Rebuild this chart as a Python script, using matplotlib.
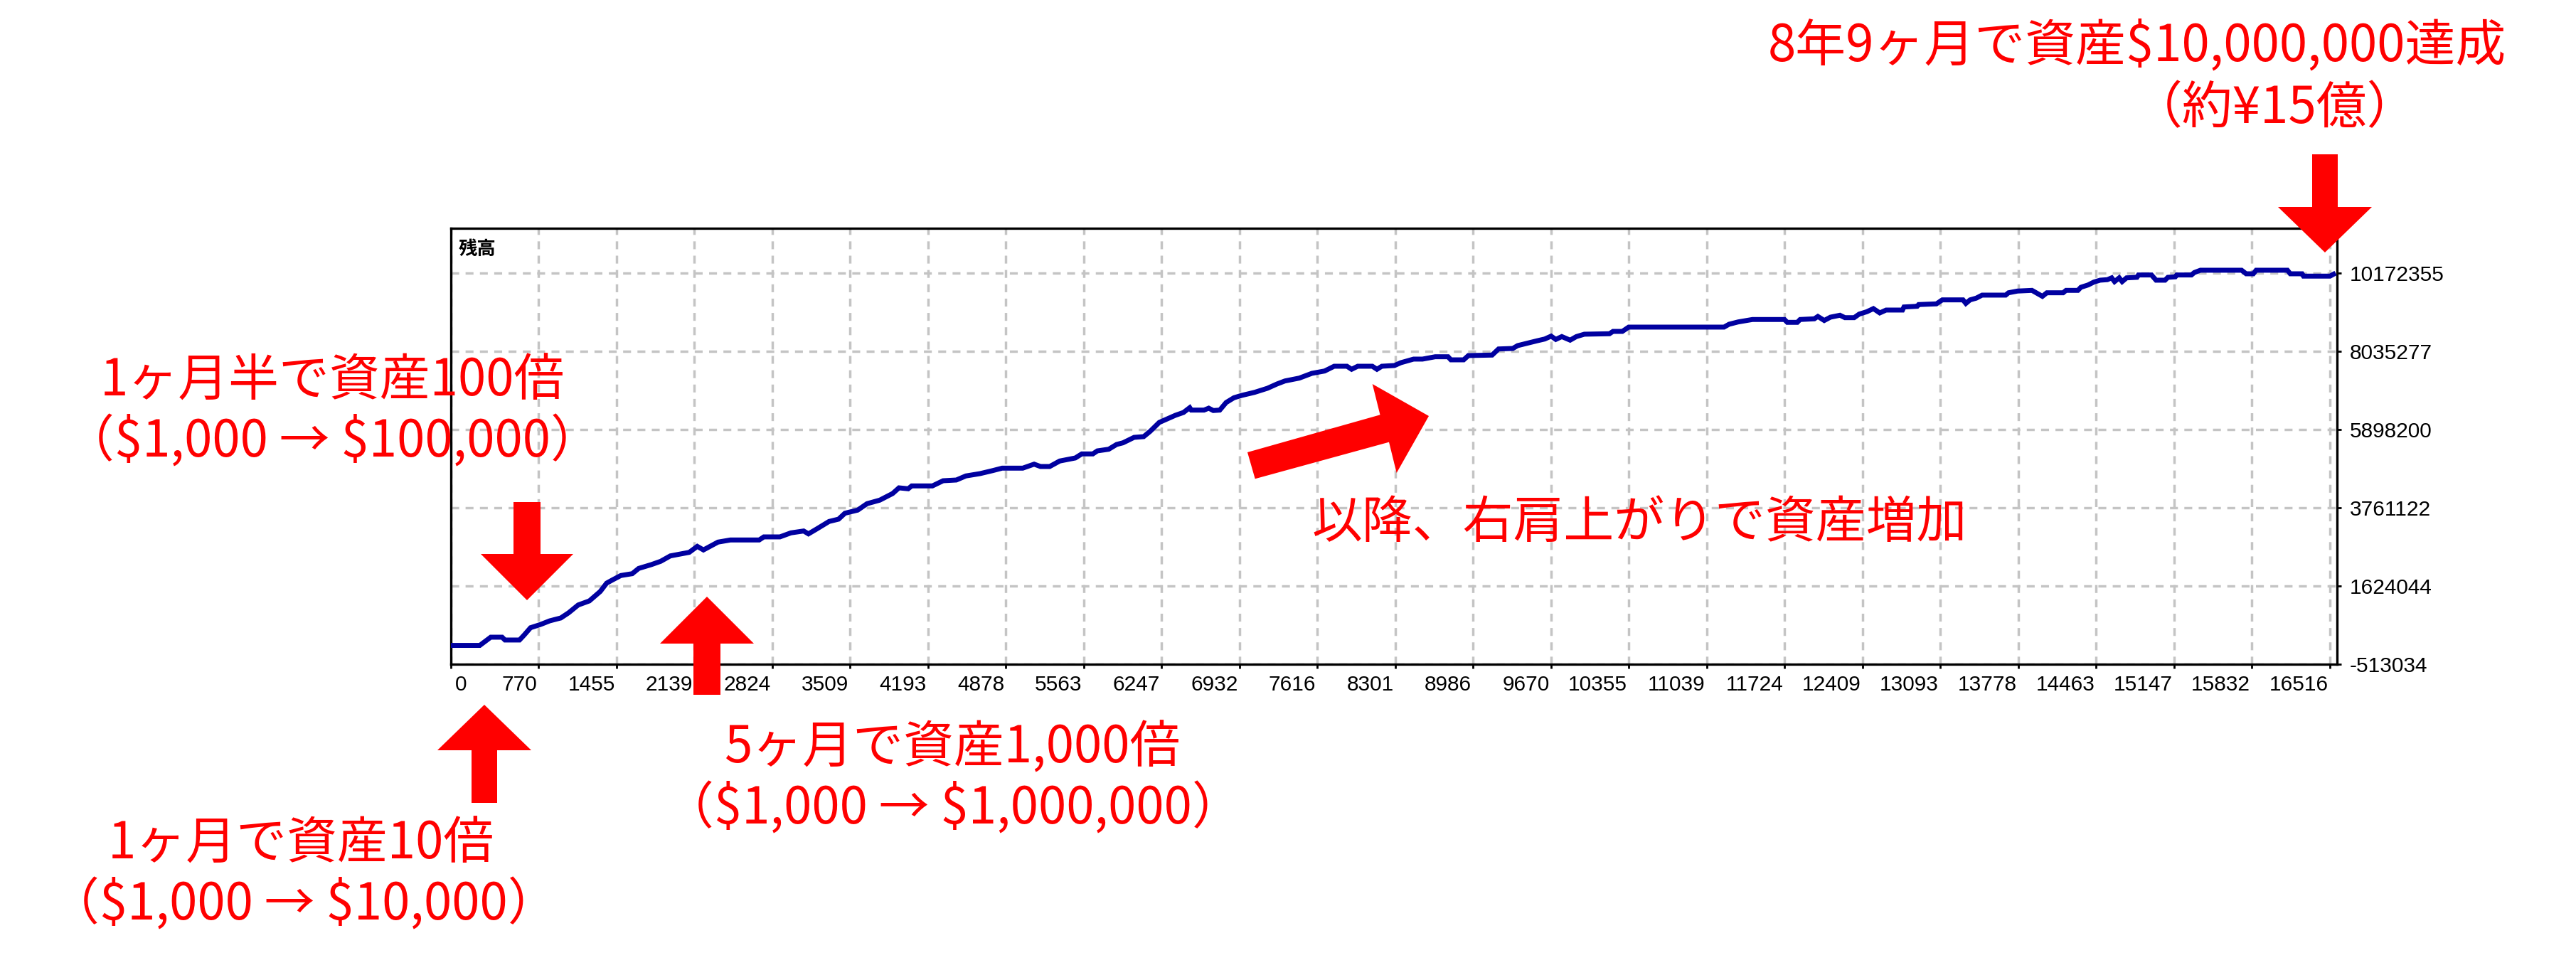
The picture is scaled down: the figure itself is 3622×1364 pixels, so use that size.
import matplotlib
matplotlib.use("Agg")
import matplotlib.pyplot as plt
from matplotlib.patches import Polygon
from matplotlib.transforms import ScaledTranslation

plt.rcParams["font.family"] = ["Liberation Sans", "DejaVu Sans"]

# ---------------- data ----------------
trade_no = [
    0, 254, 350, 450, 475, 603, 644, 700, 785, 869, 966, 1035, 1119, 1217, 1313, 1369, 1426, 1494, 1594, 1651,
    1761, 1844, 1929, 2095, 2166, 2220, 2348, 2457, 2710, 2751, 2892, 2989, 3101, 3143, 3214, 3324, 3408, 3464,
    3576, 3658, 3770, 3883, 3939, 4020, 4051, 4233, 4327,
    4443, 4527, 4652, 4764, 4846, 5027, 5127, 5183, 5264, 5352, 5489, 5546, 5643, 5683, 5783, 5852, 5908, 6006,
    6090, 6146, 6227, 6284, 6369, 6440, 6495, 6509, 6621, 6662, 6702, 6759, 6815, 6884, 6953, 7065, 7178, 7262,
    7332, 7458, 7569, 7681, 7765, 7877, 7918, 7972, 8100, 8141, 8184, 8295, 8351, 8463, 8541,
    8653, 8766, 8791, 8903, 8945, 9153, 9210, 9335, 9378, 9460, 9547, 9616, 9672, 9713, 9766, 9839, 9894, 9964,
    10185, 10216, 10298, 10354, 11192, 11236, 11317, 11442, 11723, 11748, 11836, 11861, 11986, 12017, 12073,
    12128, 12211, 12255, 12336, 12380, 12448, 12505, 12561, 12617,
    12761, 12774, 12890, 12903, 13059, 13111, 13293, 13318, 13355, 13409, 13461, 13668, 13693, 13772, 13899,
    13953, 13991, 14030, 14173, 14199, 14303, 14329, 14393, 14443, 14498, 14562, 14600, 14625, 14666, 14692,
    14731, 14822, 14835, 14950, 14990, 15069, 15094, 15159, 15172, 15301, 15326, 15380, 15742, 15782, 15845,
    15870, 16145, 16170, 16273, 16286, 16519, 16569,
]
balance = [
    1000, 1000, 225000, 225000, 148000, 148000, 284000, 484000, 569000, 672000, 750000, 892000, 1105000,
    1216000, 1474000, 1702000, 1799000, 1910000, 1960000, 2104000, 2207000, 2298000, 2446000, 2543000,
    2706000, 2609000, 2823000, 2881000, 2881000, 2965000, 2965000, 3075000, 3126000, 3048000, 3178000,
    3386000, 3450000, 3612000, 3697000, 3872000, 3969000, 4150000, 4305000, 4280000, 4358000, 4358000, 4499000,
    4519000, 4630000, 4694000, 4777000, 4843000, 4843000, 4952000, 4888000, 4888000, 5038000, 5121000,
    5232000, 5232000, 5315000, 5360000, 5490000, 5535000, 5684000, 5704000, 5846000, 6092000, 6170000,
    6287000, 6364000, 6495000, 6429000, 6429000, 6481000, 6417000, 6429000, 6636000, 6767000, 6831000,
    6914000, 7025000, 7142000, 7225000, 7303000, 7433000, 7497000, 7627000, 7627000, 7544000, 7627000,
    7627000, 7544000, 7627000, 7647000, 7724000, 7822000, 7822000,
    7886000, 7886000, 7802000, 7802000, 7919000, 7932000, 8099000, 8113000, 8191000, 8255000, 8321000,
    8371000, 8449000, 8360000, 8437000, 8340000, 8437000, 8502000, 8515000, 8579000, 8579000, 8696000,
    8696000, 8774000, 8838000, 8904000, 8904000, 8826000, 8826000, 8904000, 8923000, 8987000, 8877000,
    8968000, 9020000, 8954000, 8954000, 9051000, 9117000, 9201000, 9084000, 9162000,
    9162000, 9246000, 9265000, 9312000, 9331000, 9440000, 9440000, 9343000, 9440000, 9487000, 9570000,
    9570000, 9634000, 9681000, 9700000, 9603000, 9537000, 9634000, 9634000, 9700000, 9700000, 9784000,
    9848000, 9926000, 9978000, 9992000, 10042000, 9939000, 10042000, 9939000, 10042000, 10056000, 10120000,
    10120000, 9978000, 9978000, 10056000, 10069000, 10120000, 10120000, 10186000, 10250000, 10250000,
    10153000, 10153000, 10250000, 10250000, 10153000, 10153000, 10089000, 10089000, 10172355,
]

x_ticks = [0, 770, 1455, 2139, 2824, 3509, 4193, 4878, 5563, 6247, 6932, 7616, 8301, 8986, 9670, 10355,
           11039, 11724, 12409, 13093, 13778, 14463, 15147, 15832, 16516]
y_ticks = [-513034, 1624044, 3761122, 5898200, 8035277, 10172355]
x_range = (0, 16581)
y_range = (-513034, 11396000)

series_label = "残高"
notes = [
    "8年9ヶ月で資産$10,000,000達成",
    "（約¥15億）",
    "1ヶ月半で資産100倍",
    "（$1,000 → $100,000）",
    "5ヶ月で資産1,000倍",
    "（$1,000 → $1,000,000）",
    "1ヶ月で資産10倍",
    "（$1,000 → $10,000）",
    "以降、右肩上がりで資産増加",
]

# ---------------- figure ----------------
W, H = 3622, 1364
fig = plt.figure(figsize=(W / 100, H / 100), dpi=100)
fig.patch.set_facecolor("white")


def fx(px):
    return px / W


def fy(py):
    return 1 - py / H


ax = fig.add_axes([fx(634), fy(934), (3286 - 634) / W, (934 - 321) / H])
ax.plot(trade_no, balance, color="#0000A0", lw=5, zorder=3,
        solid_joinstyle="miter", solid_capstyle="butt")
ax.set_xlim(*x_range)
ax.set_ylim(*y_range)
ax.set_xticks(x_ticks)
ax.set_xticklabels([str(v) for v in x_ticks])
ax.set_yticks(y_ticks)
ax.set_yticklabels([str(v) for v in y_ticks])
ax.yaxis.tick_right()
ax.grid(True, color="#C4C4C4", lw=2.5, linestyle=(0, (3.2, 2.6)), zorder=1)
ax.tick_params(axis="both", direction="out", length=4, width=2, labelsize=21.5,
               colors="black")
ax.tick_params(axis="x", pad=7)
ax.tick_params(axis="y", pad=9)
# MT4 style: x labels sit just left of their grid line (first one right of the edge)
for k, lab in enumerate(ax.get_xticklabels()):
    if k == 0:
        lab.set_ha("left")
        lab.set_transform(lab.get_transform() + ScaledTranslation(6 / 100, 0, fig.dpi_scale_trans))
    else:
        lab.set_ha("right")
        lab.set_transform(lab.get_transform() + ScaledTranslation(-2 / 100, 0, fig.dpi_scale_trans))
for sp in ax.spines.values():
    sp.set_linewidth(2.4)
    sp.set_color("black")

jp = ["Noto Sans CJK JP", "DejaVu Sans"]
fig.text(fx(645), fy(350), series_label, ha="left", va="center", fontsize=19,
         fontweight="bold", family=jp, color="black")

# annotation texts: (index, center x px, center y px)
note_pos = [(0, 3005, 65), (1, 3199, 153), (2, 467, 536), (3, 467, 621),
            (4, 1339, 1052), (5, 1340, 1137), (6, 423, 1187), (7, 427, 1272),
            (8, 2305, 735)]
for i, x, y in note_pos:
    fig.text(fx(x), fy(y), notes[i], ha="center", va="center", fontsize=51,
             color="#FF0000", family=jp, zorder=10, parse_math=False)


def add_poly(pts):
    fig.add_artist(Polygon([(fx(a), fy(b)) for a, b in pts], closed=True,
                           transform=fig.transFigure, facecolor="#FF0000",
                           edgecolor="none", zorder=9))


def vertical_arrow(cx, tip_y, base_y, end_y, head_hw, shaft_hw):
    add_poly([(cx - shaft_hw, end_y), (cx + shaft_hw, end_y), (cx + shaft_hw, base_y),
              (cx + head_hw, base_y), (cx, tip_y), (cx - head_hw, base_y),
              (cx - shaft_hw, base_y)])


vertical_arrow(3269, 355, 291, 217, 66, 18)    # top right, pointing down
vertical_arrow(741, 844, 779, 706, 65, 19)     # left, pointing down
vertical_arrow(994, 839, 905, 977, 66, 19)     # middle, pointing up
vertical_arrow(681, 991, 1055, 1129, 66, 18)   # bottom left, pointing up
add_poly([(1764.7, 673.3), (1754, 636), (1940.5, 583.3), (1929.7, 540),
          (2009, 585), (1963.7, 665), (1953, 621.7)])  # diagonal arrow

fig.savefig("out.png", dpi=100, facecolor="white")
